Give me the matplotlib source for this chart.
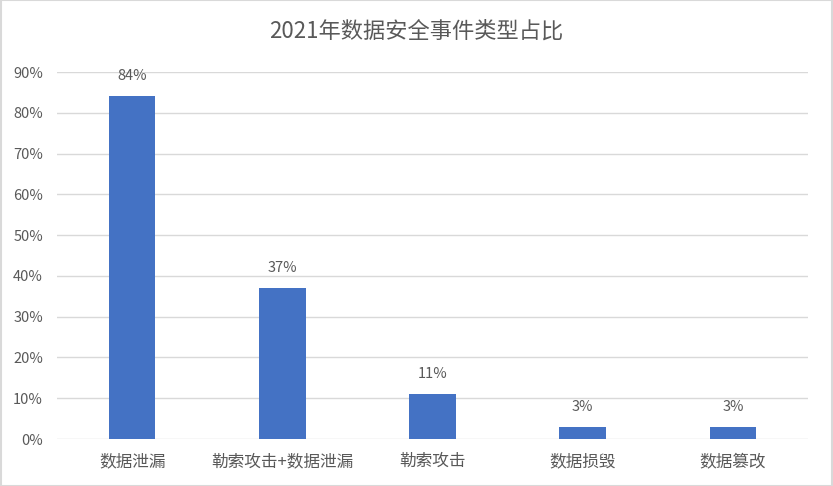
import matplotlib
matplotlib.use("Agg")
import matplotlib.pyplot as plt
from matplotlib.patches import Rectangle

plt.rcParams['font.family'] = ['Noto Sans CJK SC', 'DejaVu Sans']

categories = ["数据泄漏", "勒索攻击+数据泄漏", "勒索攻击", "数据损毁", "数据篡改"]
shares = [84, 37, 11, 3, 3]
yticks = [0, 10, 20, 30, 40, 50, 60, 70, 80, 90]

fig = plt.figure(figsize=(8.33, 4.86), dpi=100)
ax = fig.add_axes([57/833, 1-439/486, (808-57)/833, (439-72)/486])

x = range(len(categories))
ax.bar(x, shares, width=0.31, color="#4472C4", zorder=3)
for i, v in zip(x, shares):
    ax.text(i, v + 3.2, f"{v}%", ha="center", va="bottom", fontsize=10.5, color="#595959")

ax.set_xlim(-0.5, len(categories) - 0.5)
ax.set_ylim(0, 90)
ax.set_yticks(yticks)
ax.set_yticklabels([f"{t}%" for t in yticks])
ax.set_xticks(list(x))
ax.set_xticklabels(categories, fontsize=12)
ax.tick_params(axis="both", length=0, labelcolor="#595959")
ax.tick_params(axis="y", labelsize=10.5, pad=10)
ax.tick_params(axis="x", pad=10)
ax.grid(axis="y", color="#D9D9D9", linewidth=1, zorder=0)
for s in ax.spines.values():
    s.set_visible(False)

fig.text(0.5, 1-31/486, "2021年数据安全事件类型占比", ha="center", va="center",
         fontsize=16, color="#595959")
fig.patches.append(Rectangle((0.001, 0.001), 0.998, 0.998, transform=fig.transFigure,
                             fill=False, edgecolor="#D9D9D9", linewidth=1.5))

fig.savefig("out.png", dpi=100)
